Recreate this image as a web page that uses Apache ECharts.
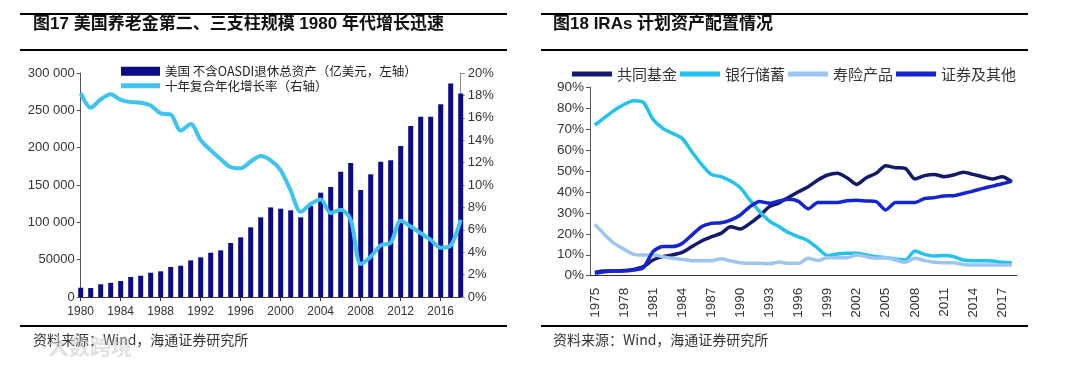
<!DOCTYPE html>
<html>
<head>
<meta charset="utf-8">
<script src="https://cdn.jsdelivr.net/npm/echarts@6/dist/echarts.min.js"></script>
<style>
html,body{margin:0;padding:0;background:#fff;}
#c{width:1080px;height:369px;}
</style>
</head>
<body>
<div id="c"></div>
<script>
// ---- Left chart (图17) ----
const yearsL = ['1980','1981','1982','1983','1984','1985','1986','1987','1988','1989','1990','1991','1992','1993','1994','1995','1996','1997','1998','1999','2000','2001','2002','2003','2004','2005','2006','2007','2008','2009','2010','2011','2012','2013','2014','2015','2016','2017','2018'];
const assets = [12400,12000,17000,19000,21400,26800,28500,32500,34400,40200,41900,49100,53100,59300,62500,72300,79900,93300,106700,120000,118300,116100,106700,122000,139700,147300,167800,179400,143300,164300,181200,183000,202200,229000,241400,241400,258000,286100,272700];
const cagr10 = [18.2,16.9,17.65,18.1,17.6,17.4,17.35,17.1,16.4,16.3,14.85,15.45,14.0,13.1,12.3,11.6,11.5,12.1,12.6,12.2,11.3,9.5,7.6,8.3,8.7,7.5,7.8,6.9,2.95,3.6,4.6,4.85,6.8,6.3,5.7,5.1,4.4,4.6,6.9];
const leftTicks = ['0','50000','100 000','150 000','200 000','250 000','300 000'];
const nameBar = '美国 不含OASDI退休总资产（亿美元，左轴）';
const nameLine = '十年复合年化增长率（右轴）';

// ---- Right chart (图18) ----
const yearsR = ['1975','1976','1977','1978','1979','1980','1981','1982','1983','1984','1985','1986','1987','1988','1989','1990','1991','1992','1993','1994','1995','1996','1997','1998','1999','2000','2001','2002','2003','2004','2005','2006','2007','2008','2009','2010','2011','2012','2013','2014','2015','2016','2017','2018'];
const mutualFund = [1.6,2.2,2.2,2.5,3.0,4.3,7.5,9.1,9.9,11.1,13.9,16.6,18.6,20.2,23.4,22.3,25,28.6,33,34.8,37.5,40.1,42.5,45.7,48.1,48.9,46.8,43.6,46.8,48.9,52.5,51.6,51.3,46.2,47.8,48.4,47.3,48.1,49.4,48.4,47.3,46.2,47.3,44.9];
const bankSavings = [72,75.5,79,81.8,83.6,82.8,74.7,70.4,68,65.6,59.2,53.2,48.4,47.3,45.2,42,36.1,30.6,26.1,23.4,20.5,18.6,16.6,13.1,9.6,10.4,10.7,10.7,9.9,9.1,8.6,8,7.5,11.8,10.2,9.4,9.6,9.1,7.5,7.2,7.2,7,6.4,6.2];
const lifeInsurance = [24.5,19.7,15.4,12.7,10.2,9.9,9.9,9.1,8.3,7.8,7.2,7.2,7.2,8.1,7.0,6.2,5.9,5.9,5.7,6.5,5.9,5.9,8.3,7.3,8.6,8.6,8.6,9.9,9.1,8.3,8.6,7.5,6.4,8.3,7.2,6.4,6.2,6.2,5.4,5.1,5.1,5.1,5.1,5.1];
const securities = [1.1,1.9,2.2,2.2,2.7,3.8,11.5,13.9,13.9,15.4,19.4,23.4,25,25.3,26.6,29,33,35.4,34.6,35.7,36.5,35.5,32,35,35,35,35.8,36.1,35.7,35.4,31.4,35,35,35,36.9,37.3,38.1,38.2,39.3,40.4,41.7,42.8,43.9,45.2];
const namesR = ['共同基金','银行储蓄','寿险产品','证券及其他'];

const FONT = '"Liberation Sans", Arial, "Noto Sans CJK SC", sans-serif';
const CJK = '"Noto Sans CJK SC", "Liberation Sans", sans-serif';
const LINE_ICON = 'path://M0,0H40V5H0Z';

const chart = echarts.init(document.getElementById('c'));
chart.setOption({
  animation: false,
  backgroundColor: '#fff',
  textStyle: {fontFamily: FONT},
  grid: [
    {left: 80.7, right: 619.3, top: 73, bottom: 72},
    {left: 590, right: 63.3, top: 87.3, bottom: 93.3}
  ],
  legend: [
    {
      data: [{name: nameBar, icon: 'rect'}, {name: nameLine, icon: LINE_ICON}],
      orient: 'vertical', left: 116, top: 60,
      itemWidth: 39, itemHeight: 9, itemGap: 2,
      textStyle: {fontFamily: CJK, fontSize: 12.5, lineHeight: 12, color: '#222'}
    },
    {
      data: namesR.map(function (n) { return {name: n, icon: LINE_ICON}; }),
      orient: 'horizontal', left: 567, top: 61,
      itemWidth: 40, itemHeight: 10, itemGap: 3,
      textStyle: {fontFamily: CJK, fontSize: 15, lineHeight: 16, color: '#333'}
    }
  ],
  xAxis: [
    {
      type: 'category', gridIndex: 0, data: yearsL, boundaryGap: false,
      axisLine: {lineStyle: {color: '#333', width: 1}},
      axisTick: {interval: 3, length: 4, lineStyle: {color: '#333'}},
      axisLabel: {interval: 3, color: '#333', fontSize: 12, margin: 9}
    },
    {
      type: 'category', gridIndex: 1, data: yearsR, boundaryGap: true,
      axisLine: {lineStyle: {color: '#333', width: 1}},
      axisTick: {interval: 2, length: 4, lineStyle: {color: '#333'}},
      axisLabel: {interval: 2, rotate: 90, color: '#333', fontSize: 13.5, margin: 12}
    }
  ],
  yAxis: [
    {
      type: 'value', gridIndex: 0, min: 0, max: 300000, interval: 50000,
      axisLine: {show: true, lineStyle: {color: '#555'}},
      axisTick: {show: true, length: 4, lineStyle: {color: '#555'}},
      splitLine: {show: false},
      axisLabel: {color: '#333', fontSize: 13, margin: 6,
        formatter: function (v) { return leftTicks[Math.round(v / 50000)]; }}
    },
    {
      type: 'value', gridIndex: 0, position: 'right', min: 0, max: 20, interval: 2,
      axisLine: {show: true, lineStyle: {color: '#888'}},
      axisTick: {show: true, length: 4, lineStyle: {color: '#888'}},
      splitLine: {show: false},
      axisLabel: {color: '#333', fontSize: 13, margin: 7, formatter: '{value}%'}
    },
    {
      type: 'value', gridIndex: 1, min: 0, max: 90, interval: 10,
      axisLine: {show: true, lineStyle: {color: '#555'}},
      axisTick: {show: true, length: 4, lineStyle: {color: '#555'}},
      splitLine: {show: false},
      axisLabel: {color: '#333', fontSize: 13.5, margin: 6, formatter: '{value}%'}
    }
  ],
  series: [
    {
      name: nameBar, type: 'bar', xAxisIndex: 0, yAxisIndex: 0,
      data: assets, barWidth: 5,
      itemStyle: {color: '#0b0b8a'}
    },
    {
      name: nameLine, type: 'line', xAxisIndex: 0, yAxisIndex: 1,
      data: cagr10, smooth: 0.3, symbol: 'none',
      lineStyle: {width: 4, color: '#3fc3f2'}, itemStyle: {color: '#3fc3f2'}
    },
    {
      name: namesR[0], type: 'line', xAxisIndex: 1, yAxisIndex: 2,
      data: mutualFund, smooth: 0.25, symbol: 'none',
      lineStyle: {width: 3.5, color: '#131a6e'}, itemStyle: {color: '#131a6e'}
    },
    {
      name: namesR[1], type: 'line', xAxisIndex: 1, yAxisIndex: 2,
      data: bankSavings, smooth: 0.25, symbol: 'none',
      lineStyle: {width: 3.5, color: '#22c2ee'}, itemStyle: {color: '#22c2ee'}
    },
    {
      name: namesR[2], type: 'line', xAxisIndex: 1, yAxisIndex: 2,
      data: lifeInsurance, smooth: 0.25, symbol: 'none',
      lineStyle: {width: 3.5, color: '#9cc6f1'}, itemStyle: {color: '#9cc6f1'}
    },
    {
      name: namesR[3], type: 'line', xAxisIndex: 1, yAxisIndex: 2,
      data: securities, smooth: 0.25, symbol: 'none',
      lineStyle: {width: 3.5, color: '#1426d4'}, itemStyle: {color: '#1426d4'}
    }
  ],
  graphic: [
    {type: 'line', shape: {x1: 20, y1: 14, x2: 507, y2: 14}, style: {stroke: '#000', lineWidth: 2}},
    {type: 'line', shape: {x1: 20, y1: 50, x2: 507, y2: 50}, style: {stroke: '#000', lineWidth: 2}},
    {type: 'line', shape: {x1: 541, y1: 14, x2: 1028, y2: 14}, style: {stroke: '#000', lineWidth: 2}},
    {type: 'line', shape: {x1: 541, y1: 50, x2: 1028, y2: 50}, style: {stroke: '#000', lineWidth: 2}},
    {type: 'line', shape: {x1: 20, y1: 326, x2: 507, y2: 326}, style: {stroke: '#000', lineWidth: 2}},
    {type: 'line', shape: {x1: 541, y1: 326, x2: 1028, y2: 326}, style: {stroke: '#000', lineWidth: 2}},
    {type: 'text', left: 33, top: 16, style: {text: '图17 美国养老金第二、三支柱规模 1980 年代增长迅速', font: 'bold 17px ' + FONT, fill: '#111'}},
    {type: 'text', left: 553, top: 16, style: {text: '图18 IRAs 计划资产配置情况', font: 'bold 17px ' + FONT, fill: '#111'}},
    {type: 'text', left: 33, top: 333, style: {text: '资料来源：Wind，海通证券研究所', font: '14px ' + CJK, fill: '#333'}},
    {type: 'text', left: 553, top: 333, style: {text: '资料来源：Wind，海通证券研究所', font: '14px ' + CJK, fill: '#333'}},
    {type: 'text', left: 48, top: 336, style: {text: '大数跨境', font: 'bold 21px ' + CJK, fill: 'rgba(200,200,200,0.55)'}}
  ]
});
</script>
</body>
</html>
